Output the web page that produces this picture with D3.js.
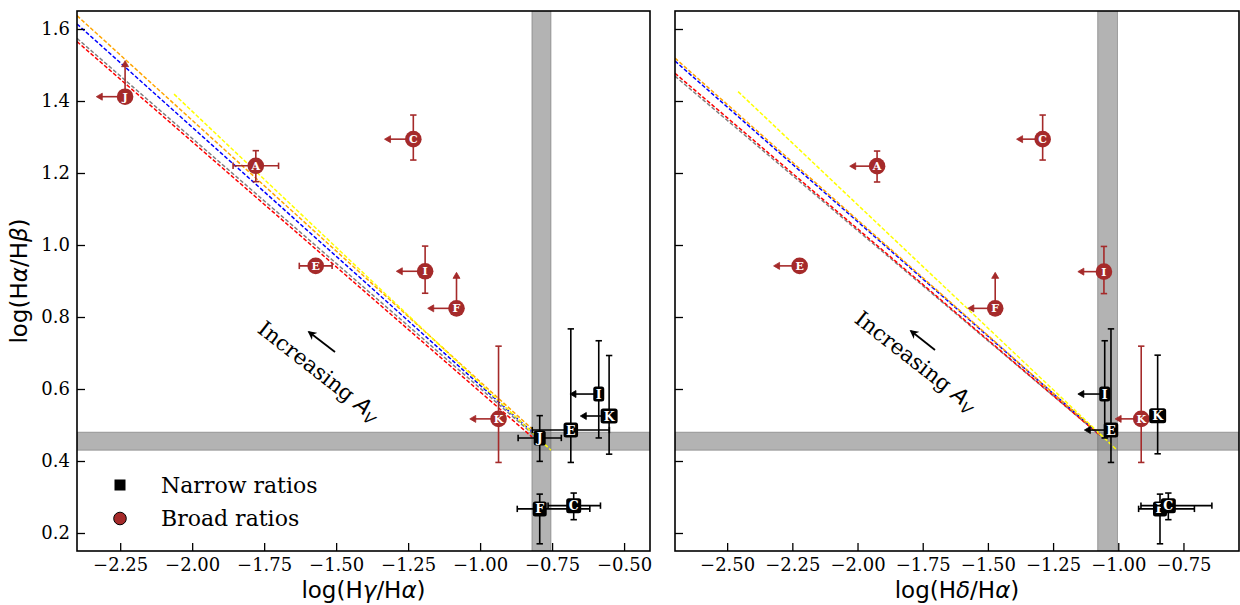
<!DOCTYPE html>
<html><head><meta charset="utf-8">
<script src="https://cdn.jsdelivr.net/npm/d3@7"></script>
<style>body{margin:0;background:#fff;} svg{display:block;}</style>
</head><body>
<svg id="chart" width="1240" height="605"></svg>
<script>
// ---------- DATA ----------
const yTicks = [0.2, 0.4, 0.6, 0.8, 1.0, 1.2, 1.4, 1.6];
const xTicksG = [-2.25, -2.00, -1.75, -1.50, -1.25, -1.00, -0.75, -0.50];
const xTicksD = [-2.50, -2.25, -2.00, -1.75, -1.50, -1.25, -1.00, -0.75];

// extinction-law lines (grey, red, blue, orange, yellow)
const lineColors = ["grey", "red", "blue", "orange", "yellow"];
const lineG_x0 = [-2.4, -2.4, -2.4, -2.4, -2.063];
const lineG_y0 = [1.574, 1.565, 1.614, 1.637, 1.419];
const lineG_x1 = [-0.81, -0.82, -0.80, -0.80, -0.754];
const lineG_y1 = [0.470, 0.467, 0.467, 0.475, 0.430];
const lineD_x0 = [-2.70, -2.70, -2.70, -2.70, -2.458];
const lineD_y0 = [1.469, 1.477, 1.511, 1.519, 1.426];
const lineD_x1 = [-1.07, -1.07, -1.07, -1.07, -1.009];
const lineD_y1 = [0.471, 0.471, 0.473, 0.473, 0.433];

// intrinsic (Case B) bands
const bandY = [0.43, 0.48];
const bandXG = [-0.820, -0.754];
const bandXD = [-1.079, -1.003];

// broad ratios, Hgamma panel
const broadG_lab = ["J", "A", "C", "E", "I", "F", "K"];
const broadG_x = [-2.233, -1.779, -1.232, -1.571, -1.191, -1.082, -0.936];
const broadG_y = [1.412, 1.220, 1.294, 0.942, 0.927, 0.824, 0.517];
const broadG_xerr = [0.10, 0.079, 0.10, 0.057, 0.10, 0.10, 0.10];
const broadG_xuplim = [1, 0, 1, 0, 1, 1, 1];
const broadG_ylo = [0, 0.044, 0.058, 0, 0.061, 0, 0.121];
const broadG_yhi = [0.10, 0.042, 0.067, 0, 0.070, 0.10, 0.202];
const broadG_ylolim = [1, 0, 0, 0, 0, 1, 0];

// broad ratios, Hdelta panel
const broadD_lab = ["A", "C", "E", "I", "F", "K"];
const broadD_x = [-1.925, -1.290, -2.222, -1.055, -1.472, -0.912];
const broadD_y = [1.219, 1.294, 0.942, 0.926, 0.824, 0.517];
const broadD_xerr = [0.105, 0.10, 0.10, 0.10, 0.105, 0.10];
const broadD_xuplim = [1, 1, 1, 1, 1, 1];
const broadD_ylo = [0.044, 0.058, 0, 0.061, 0, 0.121];
const broadD_yhi = [0.042, 0.067, 0, 0.070, 0.10, 0.202];
const broadD_ylolim = [0, 0, 0, 0, 1, 0];

// narrow ratios, Hgamma panel
const narrowG_lab = ["J", "E", "I", "K", "F", "C"];
const narrowG_x = [-0.793, -0.685, -0.588, -0.552, -0.793, -0.675];
const narrowG_y = [0.464, 0.486, 0.586, 0.525, 0.267, 0.276];
const narrowG_xlo = [0.075, 0.134, 0.10, 0.10, 0.078, 0.089];
const narrowG_xhi = [0.075, 0.134, 0, 0, 0.174, 0.093];
const narrowG_xuplim = [0, 0, 1, 1, 0, 0];
const narrowG_ylo = [0.065, 0.090, 0.122, 0.106, 0.097, 0.039];
const narrowG_yhi = [0.062, 0.281, 0.148, 0.168, 0.041, 0.035];

// narrow ratios, Hdelta panel
const narrowD_lab = ["I", "E", "K", "F", "C"];
const narrowD_x = [-1.052, -1.028, -0.849, -0.840, -0.808];
const narrowD_y = [0.586, 0.486, 0.526, 0.267, 0.276];
const narrowD_xlo = [0.103, 0.102, 0, 0.082, 0.105];
const narrowD_xhi = [0, 0, 0, 0.132, 0.167];
const narrowD_xuplim = [1, 1, 0, 0, 0];
const narrowD_ylo = [0.122, 0.090, 0.106, 0.097, 0.039];
const narrowD_yhi = [0.148, 0.281, 0.168, 0.041, 0.035];

const legendLabels = ["Narrow ratios", "Broad ratios"];
const annotationText = "Increasing ";

// ---------- DRAWING ----------
const BROWN = "#a52a2a";
const SERIF = "'DejaVu Serif', serif";
const SANS = "'DejaVu Sans', sans-serif";
const svg = d3.select("#chart");
const yTop = 11, yBot = 551;
const y = d3.scaleLinear().domain([0.15, 1.65]).range([yBot, yTop]);

const panels = [
  { id: "g", left: 77, right: 650, domain: [-2.4, -0.41], ticks: xTicksG, showY: true,
    greek: "γ", lx0: lineG_x0, ly0: lineG_y0, lx1: lineG_x1, ly1: lineG_y1, band: bandXG,
    broad: [broadG_lab, broadG_x, broadG_y, broadG_xerr, broadG_xuplim, broadG_ylo, broadG_yhi, broadG_ylolim],
    narrow: [narrowG_lab, narrowG_x, narrowG_y, narrowG_xlo, narrowG_xhi, narrowG_xuplim, narrowG_ylo, narrowG_yhi],
    annot: [319, 371], arrow: [[335, 352], [309, 332]] },
  { id: "d", left: 675, right: 1239, domain: [-2.70, -0.537], ticks: xTicksD, showY: false,
    greek: "δ", lx0: lineD_x0, ly0: lineD_y0, lx1: lineD_x1, ly1: lineD_y1, band: bandXD,
    broad: [broadD_lab, broadD_x, broadD_y, broadD_xerr, broadD_xuplim, broadD_ylo, broadD_yhi, broadD_ylolim],
    narrow: [narrowD_lab, narrowD_x, narrowD_y, narrowD_xlo, narrowD_xhi, narrowD_xuplim, narrowD_ylo, narrowD_yhi],
    annot: [916, 361], arrow: [[935, 350], [911, 331]] }
];

const defs = svg.append("defs");
defs.append("marker").attr("id", "ahead").attr("viewBox", "0 0 10 10")
  .attr("refX", 8).attr("refY", 5).attr("markerWidth", 9).attr("markerHeight", 9)
  .attr("markerUnits", "userSpaceOnUse").attr("orient", "auto")
  .append("path").attr("d", "M0,0 L10,5 L0,10 L3,5 Z").attr("fill", "black");

function arrowHead(g, px, py, dir, color) {
  const L = 6, w = 3.5;
  let d;
  if (dir === "left") d = `M${px},${py} L${px + L},${py - w} L${px + L},${py + w} Z`;
  else d = `M${px},${py} L${px - w},${py + L} L${px + w},${py + L} Z`;
  g.append("path").attr("d", d).attr("fill", color).attr("stroke", color).attr("stroke-width", 0.8);
}

function errbar(g, x, cx, cy, xlo, xhi, xup, ylo, yhi, ylolim, color) {
  const px = x(cx), py = y(cy);
  const cap = 3.2, sw = 1.6;
  if (xup) {
    const ex = x(cx - xlo);
    g.append("line").attr("x1", px).attr("x2", ex + 2).attr("y1", py).attr("y2", py)
      .attr("stroke", color).attr("stroke-width", sw);
    arrowHead(g, ex, py, "left", color);
  } else if (xlo > 0 || xhi > 0) {
    const a = x(cx - xlo), b = x(cx + xhi);
    g.append("line").attr("x1", a).attr("x2", b).attr("y1", py).attr("y2", py)
      .attr("stroke", color).attr("stroke-width", sw);
    [a, b].forEach(e => g.append("line").attr("x1", e).attr("x2", e)
      .attr("y1", py - cap).attr("y2", py + cap).attr("stroke", color).attr("stroke-width", sw));
  }
  if (ylolim) {
    const ey = y(cy + yhi);
    g.append("line").attr("x1", px).attr("x2", px).attr("y1", py).attr("y2", ey + 2)
      .attr("stroke", color).attr("stroke-width", sw);
    arrowHead(g, px, ey, "up", color);
  } else if (ylo > 0 || yhi > 0) {
    const a = y(cy + yhi), b = y(cy - ylo);
    g.append("line").attr("x1", px).attr("x2", px).attr("y1", a).attr("y2", b)
      .attr("stroke", color).attr("stroke-width", sw);
    [a, b].forEach(e => g.append("line").attr("y1", e).attr("y2", e)
      .attr("x1", px - cap).attr("x2", px + cap).attr("stroke", color).attr("stroke-width", sw));
  }
}

panels.forEach(p => {
  const x = d3.scaleLinear().domain(p.domain).range([p.left, p.right]);
  const root = svg.append("g");
  defs.append("clipPath").attr("id", "clip-" + p.id).append("rect")
    .attr("x", p.left).attr("y", yTop).attr("width", p.right - p.left).attr("height", yBot - yTop);
  const plot = root.append("g").attr("clip-path", `url(#clip-${p.id})`);

  plot.append("rect").attr("x", p.left).attr("width", p.right - p.left)
    .attr("y", y(bandY[1])).attr("height", y(bandY[0]) - y(bandY[1]))
    .attr("fill", "#808080").attr("fill-opacity", 0.6)
    .attr("stroke", "#666").attr("stroke-opacity", 0.5).attr("stroke-width", 1);
  plot.append("rect").attr("x", x(p.band[0])).attr("width", x(p.band[1]) - x(p.band[0]))
    .attr("y", yTop - 2).attr("height", yBot - yTop + 4)
    .attr("fill", "#808080").attr("fill-opacity", 0.6)
    .attr("stroke", "#666").attr("stroke-opacity", 0.5).attr("stroke-width", 1);

  lineColors.forEach((c, i) => {
    plot.append("line")
      .attr("x1", x(p.lx0[i])).attr("y1", y(p.ly0[i]))
      .attr("x2", x(p.lx1[i])).attr("y2", y(p.ly1[i]))
      .attr("stroke", c).attr("stroke-width", 1.5).attr("stroke-dasharray", "4,2");
  });

  const [bl, bx, by, bxe, bxu, bylo, byhi, byl] = p.broad;
  bl.forEach((lab, i) => {
    const g = plot.append("g");
    errbar(g, x, bx[i], by[i], bxe[i], bxe[i], bxu[i], bylo[i], byhi[i], byl[i], BROWN);
    g.append("circle").attr("cx", x(bx[i])).attr("cy", y(by[i])).attr("r", 8.3).attr("fill", BROWN);
    g.append("text").attr("x", x(bx[i])).attr("y", y(by[i])).attr("dy", "0.36em")
      .attr("text-anchor", "middle").attr("fill", "white").attr("font-family", SERIF)
      .attr("font-weight", "bold").attr("font-size", 11).text(lab);
  });

  const [nl, nx, ny, nxlo, nxhi, nxu, nylo, nyhi] = p.narrow;
  nl.forEach((lab, i) => {
    const g = plot.append("g");
    errbar(g, x, nx[i], ny[i], nxlo[i], nxhi[i], nxu[i], nylo[i], nyhi[i], 0, "black");
    const box = g.append("rect").attr("fill", "black").attr("rx", 2.5);
    const t = g.append("text").attr("x", x(nx[i])).attr("y", y(ny[i])).attr("dy", "0.36em")
      .attr("text-anchor", "middle").attr("fill", "white").attr("font-family", SERIF)
      .attr("font-weight", "bold").attr("font-size", 12.5).text(lab);
    const bb = t.node().getBBox();
    box.attr("x", x(nx[i]) - bb.width / 2 - 2.5).attr("width", bb.width + 5)
      .attr("y", y(ny[i]) - 7.5).attr("height", 15);
  });

  const xAxis = d3.axisBottom(x).tickValues(p.ticks).tickSizeInner(-8).tickSizeOuter(0)
    .tickPadding(7).tickFormat(d => d3.format(".2f")(d).replace("-", "−"));
  const gx = root.append("g").attr("transform", `translate(0,${yBot})`).call(xAxis);
  const yAxis = d3.axisLeft(y).tickValues(yTicks).tickSizeInner(-8).tickSizeOuter(0)
    .tickPadding(7).tickFormat(p.showY ? d3.format(".1f") : () => "");
  const gy = root.append("g").attr("transform", `translate(${p.left},0)`).call(yAxis);
  [gx, gy].forEach(a => {
    a.select(".domain").remove();
    a.selectAll(".tick line").attr("stroke", "black").attr("stroke-width", 1.3);
    a.selectAll(".tick text").attr("font-family", SERIF).attr("font-size", 18).attr("fill", "black");
  });

  root.append("rect").attr("x", p.left).attr("y", yTop).attr("width", p.right - p.left)
    .attr("height", yBot - yTop).attr("fill", "none").attr("stroke", "black").attr("stroke-width", 1.6);

  const xl = root.append("text").attr("x", (p.left + p.right) / 2).attr("y", 598)
    .attr("text-anchor", "middle").attr("font-family", SANS).attr("font-size", 23).attr("fill", "black");
  xl.append("tspan").text("log(H");
  xl.append("tspan").attr("font-style", "italic").text(p.greek);
  xl.append("tspan").text("/H");
  xl.append("tspan").attr("font-style", "italic").text("α");
  xl.append("tspan").text(")");

  const an = root.append("text").attr("transform", `translate(${p.annot[0]},${p.annot[1]}) rotate(38)`)
    .attr("text-anchor", "middle").attr("dy", "0.35em").attr("font-family", SERIF)
    .attr("font-size", 21.5).attr("fill", "black");
  an.append("tspan").text(annotationText);
  an.append("tspan").attr("font-family", SANS).attr("font-style", "italic").text("A");
  an.append("tspan").attr("font-family", SANS).attr("font-style", "italic")
    .attr("font-size", 15).attr("dy", "0.3em").text("V");

  root.append("line").attr("x1", p.arrow[0][0]).attr("y1", p.arrow[0][1])
    .attr("x2", p.arrow[1][0]).attr("y2", p.arrow[1][1])
    .attr("stroke", "black").attr("stroke-width", 1.8).attr("marker-end", "url(#ahead)");
});

const yl = svg.append("text").attr("transform", `translate(27,${(yTop + yBot) / 2}) rotate(-90)`)
  .attr("text-anchor", "middle").attr("font-family", SANS).attr("font-size", 23).attr("fill", "black");
yl.append("tspan").text("log(H");
yl.append("tspan").attr("font-style", "italic").text("α");
yl.append("tspan").text("/H");
yl.append("tspan").attr("font-style", "italic").text("β");
yl.append("tspan").text(")");

const leg = svg.append("g");
leg.append("rect").attr("x", 114.5).attr("y", 479.5).attr("width", 11).attr("height", 11).attr("fill", "black");
leg.append("circle").attr("cx", 120).attr("cy", 518.5).attr("r", 6.3).attr("fill", BROWN)
  .attr("stroke", "black").attr("stroke-width", 1);
legendLabels.forEach((t, i) => {
  leg.append("text").attr("x", 161).attr("y", [493, 526][i]).attr("font-family", SERIF)
    .attr("font-size", 22).attr("fill", "black").text(t);
});
</script>
</body></html>
